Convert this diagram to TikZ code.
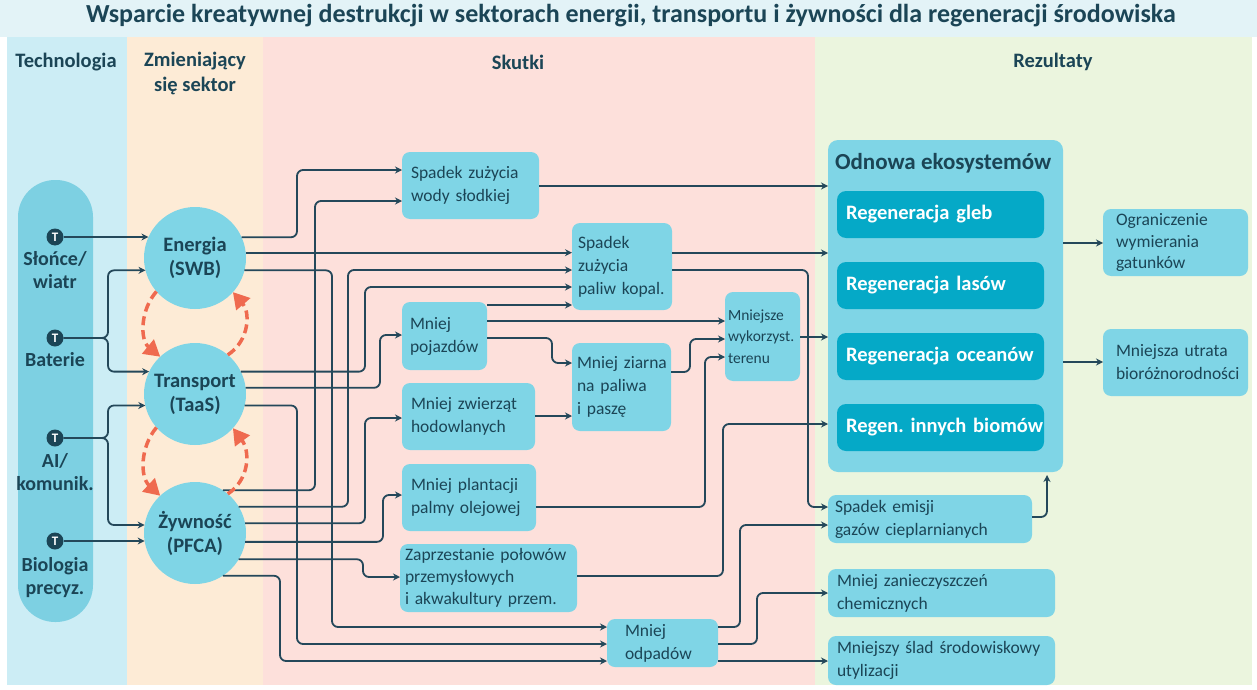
\documentclass[tikz,border=0pt]{standalone}
\usepackage{fontspec}
\setmainfont{Carlito}
\usetikzlibrary{arrows.meta}
\definecolor{titlebg}{HTML}{E3F3F7}
\definecolor{techbg}{HTML}{CCEDF5}
\definecolor{sectbg}{HTML}{FDEBD6}
\definecolor{skutbg}{HTML}{FDE0DB}
\definecolor{rezbg}{HTML}{EBF5DE}
\definecolor{boxc}{HTML}{7FD5E6}
\definecolor{pillc}{HTML}{7DD0E2}
\definecolor{darkc}{HTML}{05A9C7}
\definecolor{ink}{HTML}{1B4556}
\definecolor{linec}{HTML}{24485A}
\definecolor{redc}{HTML}{EF6A4F}
\hyphenpenalty=10000
\exhyphenpenalty=10000
\frenchspacing

\begin{document}
\begin{tikzpicture}[x=1pt,y=-1pt,
    every node/.style={text=ink,inner sep=0pt,outer sep=0pt},
    hdr/.style={font=\fontsize{20.5}{25}\selectfont\bfseries,align=center},
    ticon/.style={circle,fill=ink,minimum size=17pt,text=white,font=\fontsize{13}{13}\selectfont\bfseries},
    tlab/.style={anchor=north,align=center,font=\fontsize{20}{23}\selectfont\bfseries},
    sect/.style={circle,fill=boxc,minimum size=102pt,align=center,font=\fontsize{20.5}{24}\selectfont\bfseries},
    box/.style={fill=boxc,rounded corners=8pt,anchor=north west,align=left,inner xsep=8pt,font=\fontsize{17.5}{23}\selectfont},
    regen/.style={fill=darkc,rounded corners=9pt,anchor=north west,text=white,inner xsep=9pt,minimum width=207pt,minimum height=47pt,text width=189pt,font=\fontsize{20.5}{24}\selectfont\bfseries},
    arr/.style={draw=linec,line width=1.8pt,rounded corners=6pt,-{Stealth[length=7pt,width=7pt]}},
    cyc/.style={draw=redc,line width=3.5pt,dash pattern=on 9pt off 5pt,-{Triangle[length=16pt,width=18pt]}}]
  \useasboundingbox (0,0) rectangle (1257,690);
  \fill[white] (0,0) rectangle (1257,690);
  \fill[titlebg] (0,0) rectangle (1257,37);
  \fill[techbg] (7,37) rectangle (127,685);
  \fill[sectbg] (127,37) rectangle (263,685);
  \fill[skutbg] (263,37) rectangle (815,685);
  \fill[rezbg] (815,37) rectangle (1252,685);
  \node[font=\fontsize{26}{30}\selectfont\bfseries] (title) at (631,16) {Wsparcie kreatywnej destrukcji w sektorach energii, transportu i żywności dla regeneracji środowiska};
  \node[hdr] (hTech) at (66,62) {Technologia};
  \node[hdr,anchor=north] (hSect) at (195,52) {Zmieniający\\się sektor};
  \node[hdr] (hSkut) at (518,62) {Skutki};
  \node[hdr] (hRez) at (1053,62) {Rezultaty};

  \fill[pillc,rounded corners=37pt] (18,180) rectangle (93,622);
  \node[ticon] (tSun) at (55,237) {T};
  \node[tlab] (lSun) at (55,251) {Słońce/\\wiatr};
  \node[ticon] (tBat) at (55,338) {T};
  \node[tlab] (lBat) at (55,352) {Baterie};
  \node[ticon] (tAi) at (55,438) {T};
  \node[tlab] (lAi) at (55,453) {AI/\\komunik.};
  \node[ticon] (tBio) at (55,541) {T};
  \node[tlab] (lBio) at (55,557) {Biologia\\precyz.};

  \node[sect] (energia) at (195,258) {Energia\\(SWB)};
  \node[sect] (transport) at (195,394) {Transport\\(TaaS)};
  \node[sect] (zywnosc) at (195,533) {Żywność\\(PFCA)};

  \node[box,inner xsep=9pt,minimum width=137pt,minimum height=67pt,text width=119pt] (wody) at (402,152) {Spadek zużycia\\wody słodkiej};
  \node[box,inner xsep=6pt,minimum width=100pt,minimum height=87pt,text width=88pt] (paliwa) at (572,223) {Spadek\\zużycia\\paliw~kopal.};
  \node[box,minimum width=85pt,minimum height=68pt,text width=69pt] (pojazdy) at (402,302) {Mniej\\pojazdów};
  \node[box,inner xsep=5pt,minimum width=99pt,minimum height=88pt,text width=89pt] (ziarno) at (572,343) {Mniej~ziarna\\na paliwa\\i paszę};
  \node[box,inner xsep=3pt,minimum width=75pt,minimum height=89pt,text width=69pt,font=\fontsize{15.5}{21.5}\selectfont] (teren) at (725,292) {Mniejsze\\wykorzyst.\\terenu};
  \node[box,inner xsep=9pt,minimum width=133pt,minimum height=67pt,text width=115pt] (zwierzeta) at (402,383) {Mniej zwierząt\\hodowlanych};
  \node[box,inner xsep=9pt,minimum width=134pt,minimum height=67pt,text width=116pt] (palma) at (402,464) {Mniej plantacji\\palmy olejowej};
  \node[box,inner xsep=5pt,minimum width=177pt,minimum height=68pt,text width=167pt,font=\fontsize{17.5}{22}\selectfont] (polowy) at (400,544) {Zaprzestanie~połowów\\przemysłowych\\i~akwakultury~przem.};
  \node[box,inner xsep=18pt,minimum width=111pt,minimum height=48pt,text width=75pt] (odpady) at (607,619) {Mniej\\odpadów};

  \node[fill=boxc,rounded corners=10pt,anchor=north west,minimum width=235pt,minimum height=332pt] (odnowa) at (828,140) {};
  \node[anchor=west,font=\fontsize{23}{27}\selectfont\bfseries] (odnowaT) at (835,163) {Odnowa ekosystemów};
  \node[regen] (gleby) at (837,191) {Regeneracja~gleb};
  \node[regen] (lasy) at (837,262) {Regeneracja~lasów};
  \node[regen] (oceany) at (837,333) {Regeneracja~oceanów};
  \node[regen] (biomy) at (837,404) {Regen.~innych~biomów};
  \node[box,inner xsep=13pt,minimum width=145pt,minimum height=67pt,text width=119pt,font=\fontsize{17.5}{21.5}\selectfont] (gatunki) at (1103,209) {Ograniczenie\\wymierania\\gatunków};
  \node[box,inner xsep=13pt,minimum width=145pt,minimum height=67pt,text width=119pt] (bioroz) at (1103,329) {Mniejsza~utrata\\bioróżnorodności};
  \node[box,inner xsep=7pt,minimum width=204pt,minimum height=48pt,text width=190pt] (emisje) at (828,495) {Spadek emisji\\gazów cieplarnianych};
  \node[box,inner xsep=9pt,minimum width=227pt,minimum height=48pt,text width=209pt] (chemia) at (828,569) {Mniej zanieczyszczeń\\chemicznych};
  \node[box,inner xsep=9pt,minimum width=227pt,minimum height=49pt,text width=209pt] (utyl) at (828,636) {Mniejszy~ślad~środowiskowy\\utylizacji};

  \draw[arr] (tSun.east) -- (energia.156 |- tSun.east);
  \draw[arr] (tBat.east) -- (108,338) |- (energia.194);
  \draw[arr] (tBat.east) -- (108,338) |- (transport.154);
  \draw[arr] (tAi.east) -- (108,438) |- (transport.193);
  \draw[arr] (tAi.east) -- (108,438) |- (zywnosc.171);
  \draw[arr] (tBio.east) -- (zywnosc.189 |- tBio.east);

  \draw[arr] (energia.24) -| (297,170) -- (wody.west |- 0,170);
  \draw[arr] (energia.6) -- (paliwa.west |- energia.6);
  \draw[arr] (energia.346) -| (332,627) -- (odpady.west |- 0,627);
  \draw[arr] (transport.26) -| (365,287) -- (paliwa.west |- 0,287);
  \draw[arr] (transport.7) -| (380,335) -- (pojazdy.west |- 0,335);
  \draw[arr] (transport.347) -| (297,644) -- (odpady.west |- 0,644);
  \draw[arr] (zywnosc.57) -| (315,201) -- (wody.west |- 0,201);
  \draw[arr] (zywnosc.31) -| (348,270) -- (paliwa.west |- 0,270);
  \draw[arr] (zywnosc.11) -| (365,418) -- (zwierzeta.west |- 0,418);
  \draw[arr] (zywnosc.350) -| (383,495) -- (palma.west |- 0,495);
  \draw[arr] (zywnosc.329) -| (363,577) -- (polowy.west |- 0,577);
  \draw[arr] (zywnosc.303) -| (280,661) -- (odpady.west |- 0,661);

  \draw[arr] (pojazdy.east |- 0,305) -- (paliwa.west |- 0,305);
  \draw[arr] (pojazdy.east |- 0,321) -- (teren.west |- 0,321);
  \draw[arr] (pojazdy.east |- 0,338) -| (552,363) -- (ziarno.west |- 0,363);
  \draw[arr] (zwierzeta.east |- 0,416) -- (ziarno.west |- 0,416);
  \draw[arr] (ziarno.east |- 0,372) -| (690,339) -- (teren.west |- 0,339);
  \draw[arr] (palma.east |- 0,507) -| (705,357) -- (teren.west |- 0,357);
  \draw[arr] (polowy.east |- 0,576) -| (723,424) -- (odnowa.west |- 0,424);

  \draw[arr] (wody.east |- 0,186) -- (odnowa.west |- 0,186);
  \draw[arr] (paliwa.east |- 0,253) -- (odnowa.west |- 0,253);
  \draw[arr] (paliwa.east |- 0,270) -| (808,507) -- (emisje.west |- 0,507);
  \draw[arr] (teren.east |- 0,337) -- (odnowa.west |- 0,337);
  \draw[arr] (odpady.east |- 0,627) -| (740,525) -- (emisje.west |- 0,525);
  \draw[arr] (odpady.east |- 0,644) -| (757,593) -- (chemia.west |- 0,593);
  \draw[arr] (odpady.east |- 0,661) -- (utyl.west |- 0,661);
  \draw[arr,shorten >=3pt] (emisje.east |- 0,517) -| (odnowa.south -| 1047,0);
  \draw[arr] (odnowa.east |- 0,243) -- (gatunki.west |- 0,243);
  \draw[arr] (odnowa.east |- 0,362) -- (bioroz.west |- 0,362);

  \draw[cyc] (energia.221) .. controls (140,310) and (140,340) .. (transport.133);
  \draw[cyc] (transport.50) .. controls (250,340) and (250,312) .. (energia.318);
  \draw[cyc] (transport.221) .. controls (140,447) and (140,477) .. (zywnosc.133);
  \draw[cyc] (zywnosc.50) .. controls (250,479) and (250,451) .. (transport.318);
\end{tikzpicture}
\end{document}
